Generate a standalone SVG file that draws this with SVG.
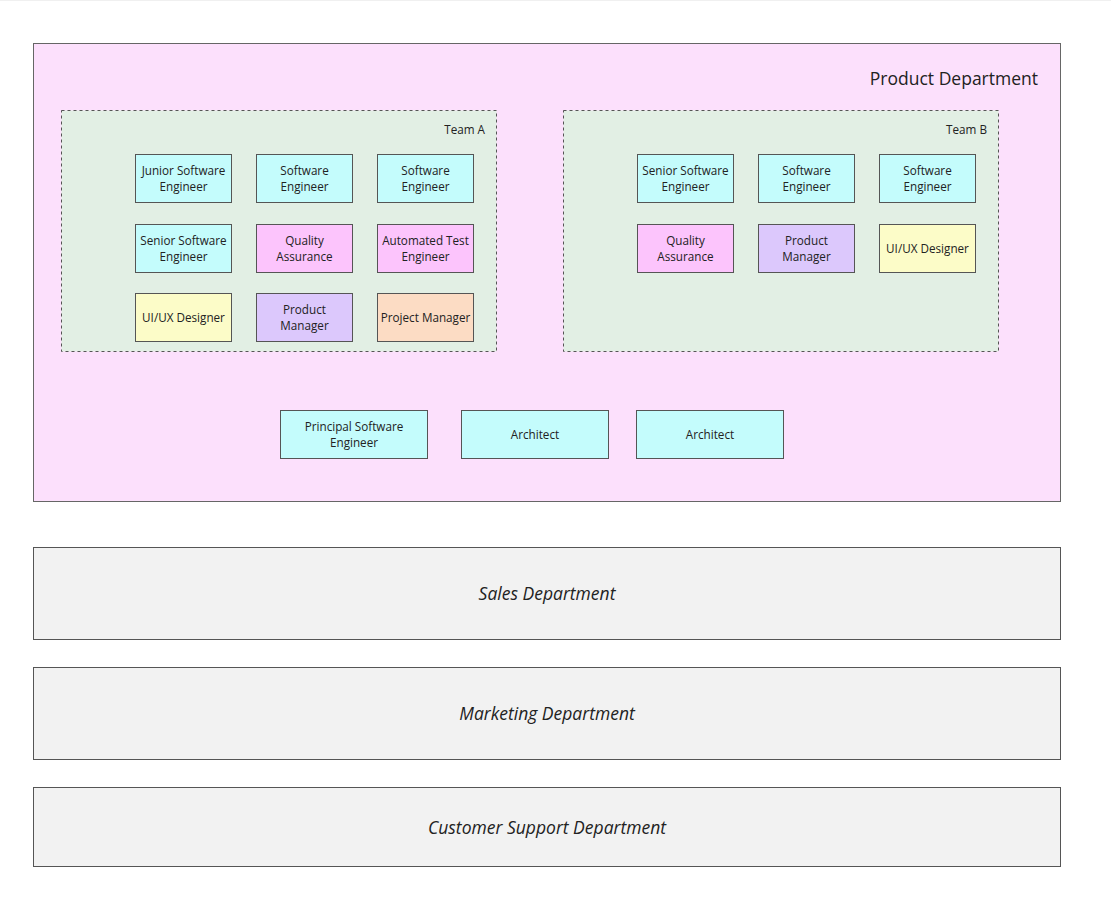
<svg xmlns="http://www.w3.org/2000/svg" width="1111" height="899" viewBox="0 0 1111 899">
<style>
text{font-family:"Open Sans","Noto Sans","DejaVu Sans",sans-serif;fill:#222}
.n{font-size:11.7px;text-anchor:middle}
.box{stroke:#555;stroke-width:1}
.cy{fill:#c4fcfc}.pk{fill:#fcc4fc}.lv{fill:#dcc8fc}.yl{fill:#fcfcc8}.pc{fill:#fcdcc4}
.team{fill:#e2efe4;stroke:#555;stroke-dasharray:3 3}
.dept{fill:#f2f2f2;stroke:#555}
.dl{font-size:17.5px;font-style:italic;text-anchor:middle}
</style>
<rect x="0" y="0" width="1111" height="899" fill="#fff"/>
<rect x="0" y="0" width="1111" height="1" fill="#f0f0f0"/>
<g id="product-dept">
<rect x="33.5" y="43.5" width="1027" height="458" fill="#fce0fc" stroke="#666"/>
<text x="1038" y="85" font-size="17.5" text-anchor="end">Product Department</text>
</g>
<g id="team-a">
<rect class="team" x="61.5" y="110.5" width="435" height="241"/>
<text x="485" y="134" font-size="11.7" text-anchor="end">Team A</text>
</g>
<g id="team-b">
<rect class="team" x="563.5" y="110.5" width="435" height="241"/>
<text x="987" y="134" font-size="11.7" text-anchor="end">Team B</text>
</g>
<g id="a1"><rect class="box cy" x="135.5" y="154.5" width="96" height="48"/><text class="n" x="183.5" y="175">Junior Software</text><text class="n" x="183.5" y="191">Engineer</text></g>
<g id="a2"><rect class="box cy" x="256.5" y="154.5" width="96" height="48"/><text class="n" x="304.5" y="175">Software</text><text class="n" x="304.5" y="191">Engineer</text></g>
<g id="a3"><rect class="box cy" x="377.5" y="154.5" width="96" height="48"/><text class="n" x="425.5" y="175">Software</text><text class="n" x="425.5" y="191">Engineer</text></g>
<g id="a4"><rect class="box cy" x="135.5" y="224.5" width="96" height="48"/><text class="n" x="183.5" y="245">Senior Software</text><text class="n" x="183.5" y="261">Engineer</text></g>
<g id="a5"><rect class="box pk" x="256.5" y="224.5" width="96" height="48"/><text class="n" x="304.5" y="245">Quality</text><text class="n" x="304.5" y="261">Assurance</text></g>
<g id="a6"><rect class="box pk" x="377.5" y="224.5" width="96" height="48"/><text class="n" x="425.5" y="245">Automated Test</text><text class="n" x="425.5" y="261">Engineer</text></g>
<g id="a7"><rect class="box yl" x="135.5" y="293.5" width="96" height="48"/><text class="n" x="183.5" y="322">UI/UX Designer</text></g>
<g id="a8"><rect class="box lv" x="256.5" y="293.5" width="96" height="48"/><text class="n" x="304.5" y="314">Product</text><text class="n" x="304.5" y="330">Manager</text></g>
<g id="a9"><rect class="box pc" x="377.5" y="293.5" width="96" height="48"/><text class="n" x="425.5" y="322">Project Manager</text></g>
<g id="b1"><rect class="box cy" x="637.5" y="154.5" width="96" height="48"/><text class="n" x="685.5" y="175">Senior Software</text><text class="n" x="685.5" y="191">Engineer</text></g>
<g id="b2"><rect class="box cy" x="758.5" y="154.5" width="96" height="48"/><text class="n" x="806.5" y="175">Software</text><text class="n" x="806.5" y="191">Engineer</text></g>
<g id="b3"><rect class="box cy" x="879.5" y="154.5" width="96" height="48"/><text class="n" x="927.5" y="175">Software</text><text class="n" x="927.5" y="191">Engineer</text></g>
<g id="b4"><rect class="box pk" x="637.5" y="224.5" width="96" height="48"/><text class="n" x="685.5" y="245">Quality</text><text class="n" x="685.5" y="261">Assurance</text></g>
<g id="b5"><rect class="box lv" x="758.5" y="224.5" width="96" height="48"/><text class="n" x="806.5" y="245">Product</text><text class="n" x="806.5" y="261">Manager</text></g>
<g id="b6"><rect class="box yl" x="879.5" y="224.5" width="96" height="48"/><text class="n" x="927.5" y="253">UI/UX Designer</text></g>
<g id="p1"><rect class="box cy" x="280.5" y="410.5" width="147" height="48"/><text class="n" x="354" y="431">Principal Software</text><text class="n" x="354" y="447">Engineer</text></g>
<g id="p2"><rect class="box cy" x="461.5" y="410.5" width="147" height="48"/><text class="n" x="535" y="439">Architect</text></g>
<g id="p3"><rect class="box cy" x="636.5" y="410.5" width="147" height="48"/><text class="n" x="710" y="439">Architect</text></g>
<g id="sales"><rect class="dept" x="33.5" y="547.5" width="1027" height="92"/><text class="dl" x="547" y="600">Sales Department</text></g>
<g id="marketing"><rect class="dept" x="33.5" y="667.5" width="1027" height="92"/><text class="dl" x="547" y="720">Marketing Department</text></g>
<g id="support"><rect class="dept" x="33.5" y="787.5" width="1027" height="79"/><text class="dl" x="547" y="834">Customer Support Department</text></g>
<g id="connectors"/>
</svg>
